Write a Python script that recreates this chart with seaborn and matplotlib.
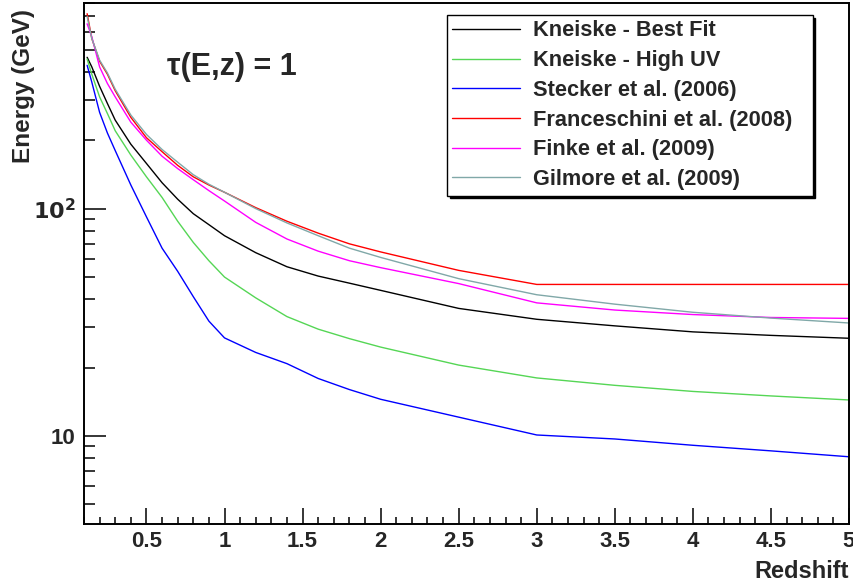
import numpy as np
import pandas as pd
import matplotlib
matplotlib.use("Agg")
import matplotlib.pyplot as plt
import matplotlib.ticker as mticker
import seaborn as sns

# ── Data ────────────────────────────────────────────────────────────────────
redshift = [0.12, 0.15, 0.2, 0.25, 0.3, 0.4, 0.5, 0.6, 0.7, 0.8, 0.9, 1.0,
            1.2, 1.4, 1.6, 1.8, 2.0, 2.5, 3.0, 3.5, 4.0, 4.5, 5.0]

kneiske_best = [463, 420, 345, 290, 245, 192, 158, 130, 110, 95, 85, 76,
                64, 55.5, 50.5, 47, 43.7, 36.4, 32.6, 30.5, 28.7, 27.7, 26.9]
kneiske_uv = [455, 390, 310, 262, 220, 172, 138, 112, 88, 71, 59, 50,
              40.5, 33.5, 29.5, 26.8, 24.6, 20.5, 18.0, 16.7, 15.7, 15.0, 14.4]
stecker = [427, 360, 265, 215, 180, 127, 92, 67, 53, 41, 32, 27,
           23.3, 20.8, 17.9, 16.0, 14.5, 12.1, 10.1, 9.7, 9.1, 8.6, 8.1]
franceschini = [720, 560, 445, 390, 330, 252, 205, 178, 155, 138, 127, 118,
                101, 88, 78, 70, 64.5, 53.5, 46.4, 46.4, 46.4, 46.4, 46.4]
finke = [650, 570, 420, 355, 310, 240, 200, 170, 150, 134, 120, 108,
         87, 73.5, 65, 59, 55, 46.8, 38.5, 35.8, 34.2, 33.2, 32.9]
gilmore = [700, 560, 450, 395, 335, 258, 212, 182, 160, 141, 128, 118,
           100, 86.5, 76, 67, 61, 49.2, 41.8, 38, 35, 33, 31.4]

models = ["Kneiske - Best Fit", "Kneiske - High UV", "Stecker et al. (2006)",
          "Franceschini et al. (2008)", "Finke et al. (2009)", "Gilmore et al. (2009)"]
colors = ["#000000", "#55d655", "#0000ff", "#ff0000", "#ff00ff", "#80a8a8"]

series = [kneiske_best, kneiske_uv, stecker, franceschini, finke, gilmore]
df = pd.concat(
    [pd.DataFrame({"z": redshift, "E": vals, "model": name})
     for name, vals in zip(models, series)],
    ignore_index=True,
)

# ── Plot ─────────────────────────────────────────────────────────────────────
sns.set_style("white")
plt.rcParams["font.family"] = ["Liberation Sans", "DejaVu Sans"]
plt.rcParams["font.weight"] = "bold"
plt.rcParams["mathtext.default"] = "bf"

fig = plt.figure(figsize=(8.54, 5.83), dpi=100)
ax = fig.add_axes([84 / 854, 59 / 583, 765 / 854, 520.7 / 583])

sns.lineplot(data=df, x="z", y="E", hue="model", hue_order=models,
             palette=dict(zip(models, colors)), estimator=None, sort=False,
             linewidth=1.0, ax=ax)

ax.set_yscale("log")
ax.set_xlim(0.1, 5.0)
ax.set_ylim(4.1, 800)

ax.xaxis.set_major_locator(mticker.MultipleLocator(0.5))
ax.xaxis.set_minor_locator(mticker.MultipleLocator(0.1))
ax.xaxis.set_major_formatter(mticker.FuncFormatter(lambda v, p: f"{v:g}"))
ax.yaxis.set_major_locator(mticker.FixedLocator([10, 100]))
ax.yaxis.set_major_formatter(mticker.FixedFormatter(["10", r"$\mathbf{10^2}$"]))
ax.yaxis.set_minor_locator(mticker.LogLocator(base=10, subs=np.arange(2, 10)))
ax.yaxis.set_minor_formatter(mticker.NullFormatter())

ax.tick_params(axis="both", which="both", direction="in", bottom=True, left=True,
               top=False, right=False, labelsize=16, width=1.1, color="black")
ax.tick_params(axis="y", which="major", length=16, pad=6)
ax.tick_params(axis="y", which="minor", length=8)
ax.tick_params(axis="x", which="major", length=11.5, pad=5)
ax.tick_params(axis="x", which="minor", length=5)

for spine in ax.spines.values():
    spine.set_linewidth(1.4)
    spine.set_color("black")

ax.set_xlabel("Redshift", fontsize=17, fontweight="bold", loc="right", labelpad=6)
ax.set_ylabel("Energy (GeV)", fontsize=17.5, fontweight="bold", loc="top")
ax.yaxis.set_label_coords(-0.064, 0.99, transform=ax.transAxes)
ax.yaxis.label.set_horizontalalignment("right")

ax.text(0.193, 0.878, "τ(E,z) = 1", transform=ax.transAxes, fontsize=22,
        fontweight="bold", ha="center", va="center")

leg = ax.legend(loc="upper left", bbox_to_anchor=(0.4745, 0.632, 0.478, 0.3455),
                mode="expand", fontsize=15.7, frameon=True, fancybox=False,
                shadow={"color": "black", "alpha": 1.0}, handlelength=3.1,
                handletextpad=0.6, labelspacing=0.4, borderpad=0.25,
                borderaxespad=0)
leg.get_frame().set_edgecolor("black")
leg.get_frame().set_linewidth(1.0)
for line in leg.get_lines():
    line.set_linewidth(1.0)

fig.savefig("out.png", dpi=100)
